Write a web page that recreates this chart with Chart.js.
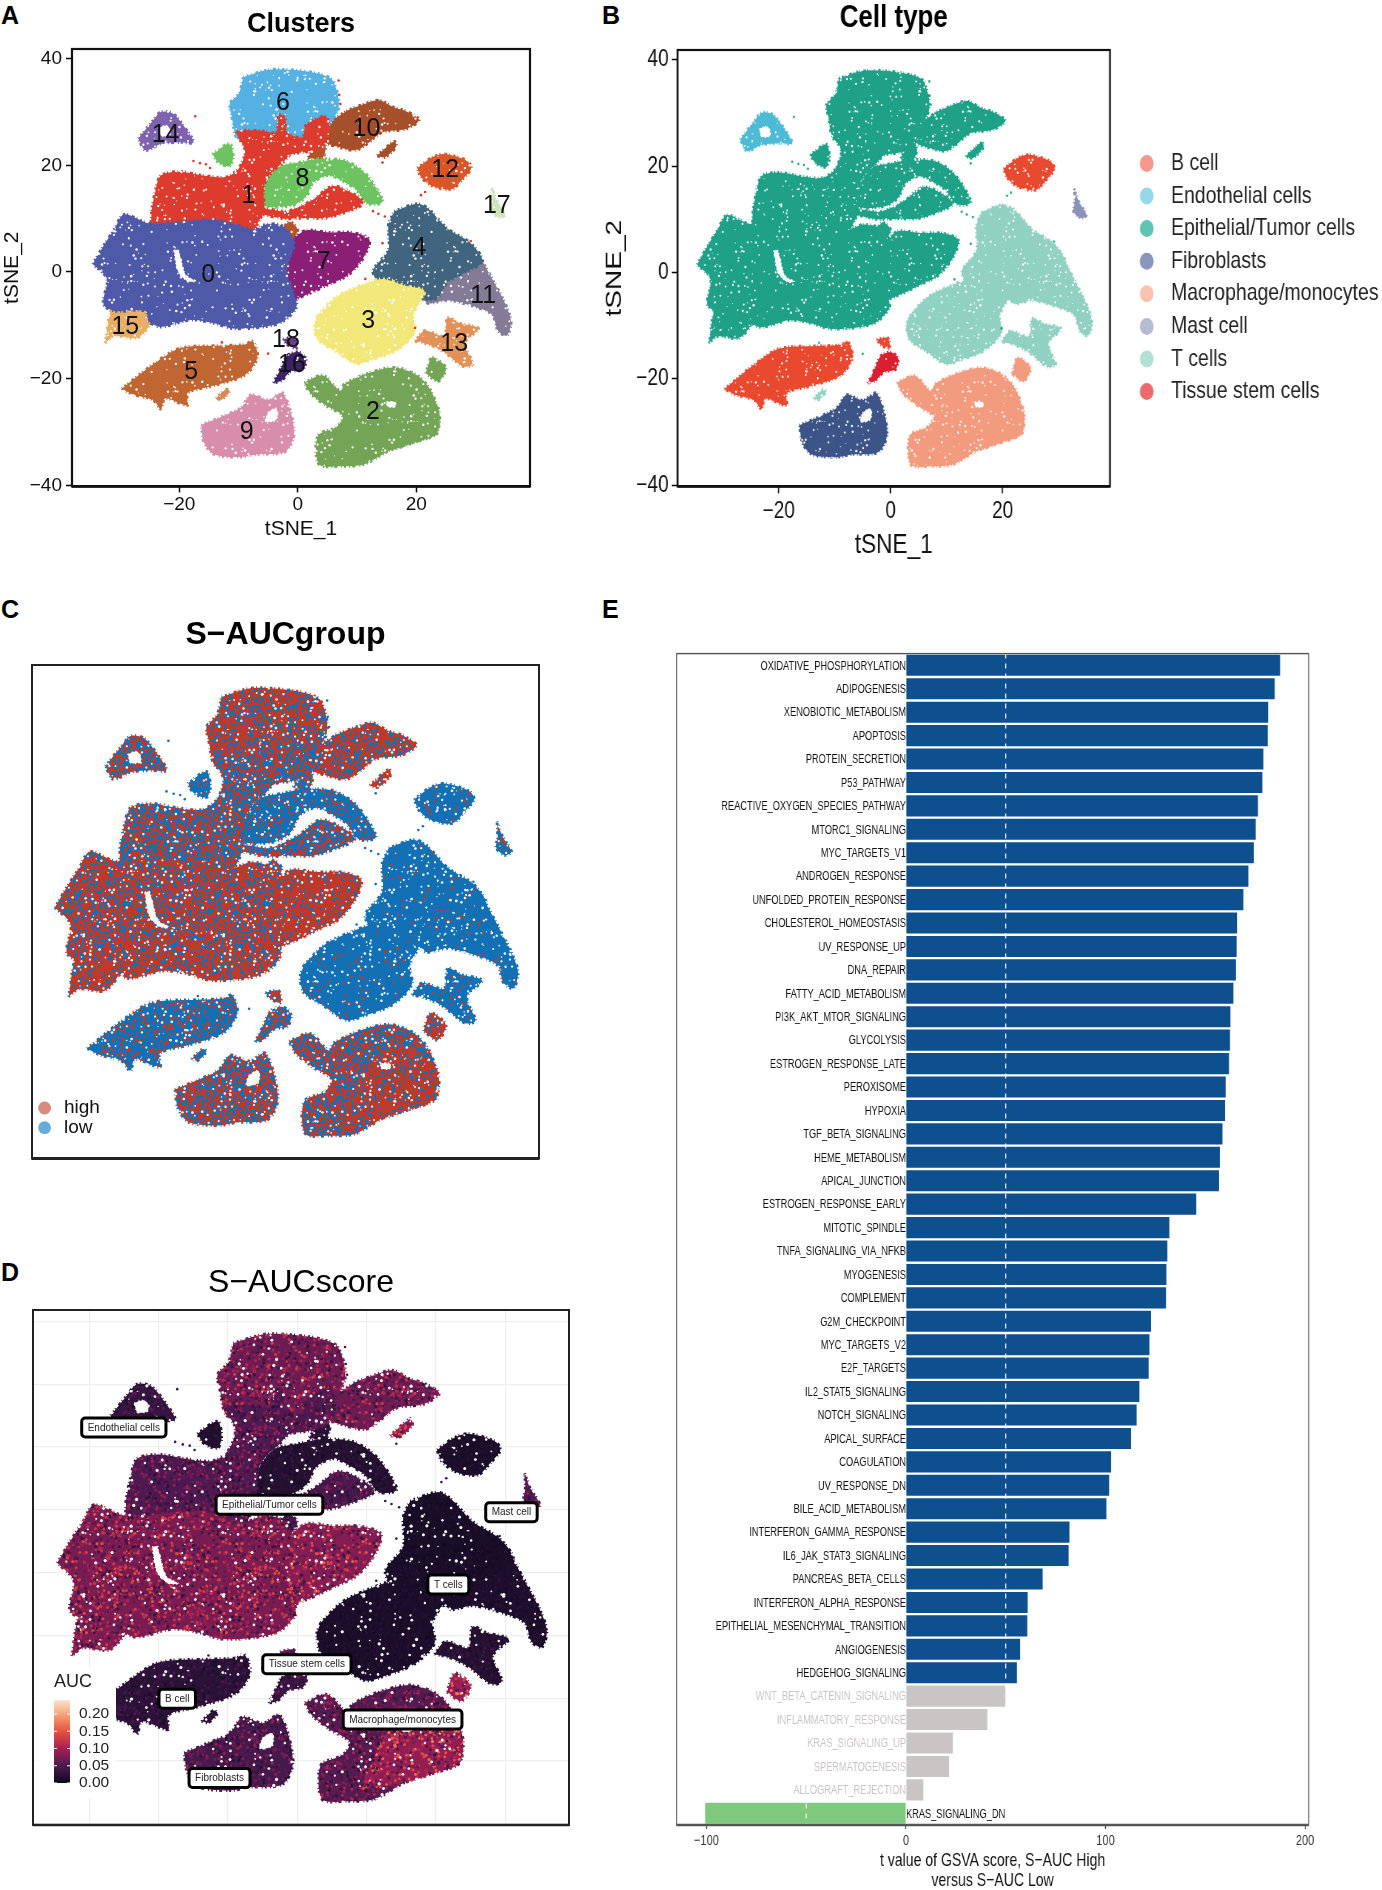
<!DOCTYPE html>
<html>
<head>
<meta charset="utf-8">
<title>tSNE panels and GSVA bars</title>
<script src="https://cdn.jsdelivr.net/npm/chart.js@4"></script>
<style>
  html, body { margin: 0; background: #fff; width: 1382px; height: 1890px; overflow: hidden; }
  canvas { position: absolute; transform-origin: 0 0; }
  #aucGroup, #aucScore { filter: blur(0.4px); }
  .tag { position: absolute; font: bold 25px "Liberation Sans", sans-serif; color: #000; line-height: 1; }
</style>
</head>
<body>
<div class="tag" style="left:1px;top:3px">A</div>
<div class="tag" style="left:602px;top:3px">B</div>
<div class="tag" style="left:1px;top:597px">C</div>
<div class="tag" style="left:1px;top:1260px">D</div>
<div class="tag" style="left:602px;top:597px">E</div>
<canvas id="clusters" width="600" height="560" style="left:0;top:0"></canvas>
<canvas id="cellType" width="965" height="560" style="left:600px;top:0;transform:scaleX(0.81)"></canvas>
<canvas id="aucGroup" width="600" height="590" style="left:0;top:590px"></canvas>
<canvas id="aucScore" width="600" height="600" style="left:0;top:1250px"></canvas>
<canvas id="gsva" width="962" height="1255" style="left:670px;top:640px;transform:scaleX(0.74)"></canvas>
<script>
// tSNE cluster outlines, vertices in tSNE units.
// The single cells cannot be read one by one, so each cluster is a filled region
// and the speckle is only a fill texture, not data.
const cluster0 = [[-34.6,1.5],[-32.9,4.7],[-30.9,8.1],[-29.3,10.8],[-25.1,9.1],[-19.3,9.4],[-14.1,9.8],[-10.2,8.8],[-7.6,8],[-5,9],[-2.5,8.6],[-1,6.5],[-0.5,5.4],[-1.8,0.1],[-0.5,-4.6],[-0.2,-6.6],[-2.5,-9.3],[-5.7,-10.3],[-10.9,-10.6],[-14.1,-9.6],[-18,-9],[-23.1,-10.3],[-25.1,-9.3],[-25.7,-7.3],[-30.9,-7.3],[-32.8,-6],[-32.2,-1.3]];
const cluster0Gap = [[-20.9,4.1],[-20.2,4.1],[-18.9,-0.6],[-17.2,-1.7],[-18.6,-1.7],[-20.2,0.1]];
const cluster1 = [[-24.7,11.4],[-24.1,14.8],[-23.1,18.1],[-19.9,18.8],[-16,18.1],[-12.1,17.8],[-9.9,19.5],[-8.9,22.8],[-10.2,26.2],[-6.3,26.5],[-3.7,26.2],[-3.1,29.5],[-2.1,28.8],[-1.8,26.2],[0.8,25.2],[1.4,27.5],[4.7,29.2],[5.3,26.2],[4,23.5],[1.4,22.5],[-1.2,22],[-2.5,20.5],[-4.5,18.5],[-5.7,16.1],[-5.7,11.4],[-6.3,10.1],[-7.6,7.5],[-8.9,7],[-10.2,7.5],[-14.1,8],[-19.3,8],[-24.4,8]];
const cluster1b = [[-6,10.8],[-5.5,11.8],[-1.8,11.4],[2.5,13.5],[5.9,16.1],[9.8,14.4],[11.1,12.8],[7.9,11.1],[4.7,10.1],[1.4,10.1],[-2.5,10]];
const cluster2 = [[1.1,-20.7],[4.3,-19.4],[7.2,-22.3],[7.9,-21],[11.8,-19],[16.3,-17.9],[20.2,-19.4],[22.7,-22.7],[23.7,-27.4],[23.4,-30.4],[19.5,-32],[15.6,-33.4],[11.1,-36.1],[7.2,-36.4],[3.6,-36.1],[3.4,-30.7],[6.6,-29],[7.6,-27],[4.7,-25],[2.1,-22.7]];
const cluster2b = [[21.6,-19],[22.7,-16],[25,-18],[23.7,-20.5]];
const cluster2Gap = [[15,-24.3],[16.6,-24.5],[16.3,-25.3],[15.2,-25.2]];
const cluster3 = [[3.4,-8],[6.6,-4.6],[11.1,-2.3],[14.3,-1.3],[18.2,-2.6],[21.4,-3.6],[19.5,-8],[19.8,-11.3],[16.9,-14.6],[13,-16.3],[9.8,-17.2],[6.6,-15],[3.4,-12.7],[2.8,-10]];
const cluster4 = [[16.3,11.4],[20.2,12.8],[22.1,11.8],[25.3,8.1],[29.2,5.4],[31.2,2],[28.6,0.1],[25.3,-1.9],[23.4,-5],[19.5,-5],[15,-3.5],[12.7,0.1],[15.3,4.1],[15.3,8.8]];
const cluster5 = [[-29.7,-21.9],[-24.4,-17.3],[-19.9,-14.3],[-12.8,-13.8],[-8.9,-13.6],[-7.6,-13],[-6.8,-16],[-8.9,-19.3],[-14.1,-21.3],[-18.6,-22.7],[-18.6,-25],[-22.4,-23.7],[-23.1,-25.7],[-24.4,-24],[-27.7,-23]];
const cluster5b = [[-13.8,-23.7],[-12.1,-22],[-11.5,-22.4],[-12.8,-23.9]];
const cluster6 = [[-9.2,36.5],[-5,37.9],[-1.2,37.9],[3.4,37.2],[5.9,35.9],[6.9,30.8],[4.7,27],[1.4,25.5],[0.5,24.8],[-1.8,25],[-2.5,28.8],[-3.4,29.5],[-3.7,24.5],[-7.6,24.5],[-10.2,25],[-11.2,29.5],[-11.5,31.5],[-9.9,33.5]];
const cluster7 = [[-1,6],[1.4,7.8],[5.3,7.4],[9.1,7.4],[12.1,6.1],[11.1,2.7],[8.5,-0.6],[5.3,-2.3],[1.4,-4.3],[-2.5,-5.5],[-3,-1.5],[-3,2],[-2,4.5]];
const cluster8 = [[-6.2,15.5],[-3.5,19.5],[0.1,20.5],[3.4,21.2],[7.9,20.9],[11.1,18.8],[13.4,15.5],[14.3,13.1],[11.8,12.8],[9.8,15.5],[7.9,16.8],[5.3,18.1],[2.7,16.8],[1.4,14.1],[-1.2,12.4],[-6,12.5]];
const cluster8b = [[-14.4,22.1],[-11.5,24.1],[-10.9,21.5],[-11.5,19.8],[-13.4,20.5]];
const cluster9 = [[-16.3,-28.7],[-13.4,-27.4],[-9.6,-25.4],[-7.9,-23],[-5,-24],[-2.5,-22.7],[-0.6,-30],[-2.1,-33.7],[-7,-34.2],[-9.6,-34.7],[-14.1,-34.2],[-15.8,-32]];
const cluster9Gap = [[-5,-26.3],[-3.6,-25.6],[-3.6,-27.6],[-5.4,-28]];
const cluster10 = [[8.2,30.2],[10.5,31.2],[13.7,32.2],[16.3,30.8],[18.2,30.2],[20.5,28.5],[18.2,26.8],[14.3,26.2],[11.8,24.1],[9.8,22.8],[6.6,23.5],[4.5,24.5],[5,27.5]];
const cluster10b = [[13.4,21.8],[16.3,24.5],[16.6,23.5],[14.7,21.5]];
const cluster10c = [[1.7,21.5],[3.4,23.8],[4.7,23.5],[4,21.1]];
const cluster10d = [[-3.3,6.4],[-1.5,9.4],[0,8],[-1,6.2]];
const cluster11 = [[31.2,2],[33.1,-1.9],[35,-5.9],[36,-9.3],[35.3,-11.9],[33.8,-11],[32.8,-8],[29.2,-6.3],[25.3,-5.3],[21.8,-5.8],[22,-2],[25,0],[27,2]];
const cluster12 = [[20.2,19.5],[22.7,21.5],[24.7,22.1],[28.5,20.9],[29.3,19.5],[27.9,17.5],[26,15.5],[22.7,16.1],[20.8,17.8]];
const cluster13 = [[19.8,-13],[21.4,-11],[24.7,-12],[25.3,-8.6],[27.3,-9.6],[30.5,-10.6],[28.2,-13.3],[29.5,-17.3],[27.9,-17.7],[24.7,-15],[22.1,-13.6]];
const cluster14 = [[-26.9,25],[-24.7,28],[-23.1,30],[-21.1,29.7],[-19.2,27.3],[-17.6,24.3],[-19.9,24.3],[-23.1,24],[-25.7,22.8]];
const cluster14Gap = [[-23.5,27],[-22,27.4],[-21.5,25.8],[-23,25.5]];
const cluster15 = [[-32.5,-13.3],[-31.2,-6.5],[-27.7,-6],[-24.8,-9],[-27,-12.3],[-30.9,-12]];
const cluster16 = [[-4.1,-20.8],[-2.8,-18],[-1.8,-15.7],[0.1,-15],[1.4,-16.3],[0.8,-18.3],[-1.2,-18.7],[-2.8,-20.4]];
const cluster17 = [[32.8,15.8],[33.6,13.4],[35,10.8],[34,10.2],[32.7,11.4],[32.9,13.4]];
const cluster18 = [[-2.5,-12.6],[-0.5,-12.3],[-0.2,-14.3],[-1.8,-13.6]];
const macroBright = [[9,-34.5],[14,-24],[19,-22],[23.5,-25],[23.5,-30],[19.5,-32],[15.6,-33.4]];
const strayX = [-17.6,-16.5,-15.5,-14.8,12.7,13.6,14.7,20.8,21.5,6.9,7,7.2,-17.3,14.3,14.3,29.2,11.4,19.8,-5,-12.8];
const strayY = [20.8,20.4,20.2,19.5,11.4,10.9,10.4,14.4,15,35.9,33.2,31.5,29.2,20.5,5.4,5.8,-1.3,-10.5,-15.3,-13.2];

const clusterIds = ["0","1","2","3","4","5","6","7","8","9","10","11","12","13","14","15","16","17","18"];
const clusterLabelX = [-15.1,-8.3,12.7,11.9,20.5,-18,-2.5,4.4,0.8,-8.6,11.6,31.3,24.9,26.4,-22.3,-29.1,-1,33.6,-2];
const clusterLabelY = [-0.6,14.2,-26.2,-9.3,4.4,-18.8,31.7,1.9,17.5,-30,26.8,-4.5,19.1,-13.6,25.7,-10.4,-17.5,12.3,-12.8];

const cellTypes = ["B cell","Endothelial cells","Epithelial/Tumor cells","Fibroblasts","Macrophage/monocytes","Mast cell","T cells","Tissue stem cells"];
const cellTypeDots = ["#f4998b","#95d8ea","#5fc5b1","#8a97bb","#f9c3b0","#b4bcd4","#b3e0d5","#ec6a6d"];
const cellLabelX = [-25,-4,30.9,21.8,1.4,-17.3,15.2,-11.2];
const cellLabelY = [23.1,10.8,9.6,-1.9,-14.6,-20.1,-23.4,-32.7];
const cellLabelText = ["Endothelial cells","Epithelial/Tumor cells","Mast cell","T cells","Tissue stem cells","B cell","Macrophage/monocytes","Fibroblasts"];

const groupNames = ["high","low"];
const aucTicks = [0,0.05,0.1,0.15,0.2];

const pathways = ["OXIDATIVE_PHOSPHORYLATION","ADIPOGENESIS","XENOBIOTIC_METABOLISM","APOPTOSIS","PROTEIN_SECRETION","P53_PATHWAY","REACTIVE_OXYGEN_SPECIES_PATHWAY","MTORC1_SIGNALING","MYC_TARGETS_V1","ANDROGEN_RESPONSE","UNFOLDED_PROTEIN_RESPONSE","CHOLESTEROL_HOMEOSTASIS","UV_RESPONSE_UP","DNA_REPAIR","FATTY_ACID_METABOLISM","PI3K_AKT_MTOR_SIGNALING","GLYCOLYSIS","ESTROGEN_RESPONSE_LATE","PEROXISOME","HYPOXIA","TGF_BETA_SIGNALING","HEME_METABOLISM","APICAL_JUNCTION","ESTROGEN_RESPONSE_EARLY","MITOTIC_SPINDLE","TNFA_SIGNALING_VIA_NFKB","MYOGENESIS","COMPLEMENT","G2M_CHECKPOINT","MYC_TARGETS_V2","E2F_TARGETS","IL2_STAT5_SIGNALING","NOTCH_SIGNALING","APICAL_SURFACE","COAGULATION","UV_RESPONSE_DN","BILE_ACID_METABOLISM","INTERFERON_GAMMA_RESPONSE","IL6_JAK_STAT3_SIGNALING","PANCREAS_BETA_CELLS","INTERFERON_ALPHA_RESPONSE","EPITHELIAL_MESENCHYMAL_TRANSITION","ANGIOGENESIS","HEDGEHOG_SIGNALING","WNT_BETA_CATENIN_SIGNALING","INFLAMMATORY_RESPONSE","KRAS_SIGNALING_UP","SPERMATOGENESIS","ALLOGRAFT_REJECTION","KRAS_SIGNALING_DN"];
const tValues = [187.5,184.8,181.5,181.3,179.1,178.6,176.4,175.3,174.3,171.6,169.1,165.9,165.7,165.4,164.1,162.6,162.4,161.9,160.2,159.9,158.6,157.3,156.9,145.5,132,131,130.5,130.3,122.8,122,121.6,117,115.6,112.8,102.8,101.8,100.4,81.9,81.5,68.5,61,60.8,57.2,55.6,49.9,40.8,23.5,21.6,8.7,-100.7];
const cutoffs = [-50,50];

const FONT = '"Liberation Sans", Arial, sans-serif';
const RANGE = {xmin: -38.1, xmax: 39.2, ymin: -40.2, ymax: 41.8};

// one row per region, first row on top: colour in A, colour in B, share of "high" cells in C, mean AUC in D
const regions = [
  {pts: cluster0,  a: "#4e59a8", b: "#1ea187", high: .7, auc: .088},
  {pts: cluster1,  a: "#dd3b2d", b: "#1ea187", high: .5, auc: .06},
  {pts: cluster1b, a: "#dd3b2d", b: "#1ea187", high: .42, auc: .055},
  {pts: cluster2b, a: "#74a556", b: "#f39b7f", high: .82, auc: .11},
  {pts: macroBright, a: "#74a556", b: "#f39b7f", high: .8, auc: .105},
  {pts: cluster2,  a: "#74a556", b: "#f39b7f", high: .55, auc: .065},
  {pts: cluster3,  a: "#f2e87a", b: "#91d1c2", high: .03, auc: .014},
  {pts: cluster4,  a: "#41657f", b: "#91d1c2", high: .03, auc: .012},
  {pts: cluster5,  a: "#bf6632", b: "#e8492f", high: .2,  auc: .03},
  {pts: cluster5b, a: "#d98a50", b: "#91d1c2", high: .3,  auc: .03},
  {pts: cluster8,  a: "#6cc35f", b: "#1ea187", high: .14, auc: .022},
  {pts: cluster8b, a: "#6cc35f", b: "#1ea187", high: .08, auc: .02},
  {pts: cluster6,  a: "#56b1e3", b: "#1ea187", high: .7, auc: .08},
  {pts: cluster7,  a: "#8a1f75", b: "#1ea187", high: .86, auc: .095},
  {pts: cluster9,  a: "#d88eab", b: "#3c5488", high: .56, auc: .055},
  {pts: cluster10c,a: "#b5542a", b: "#1ea187", high: .3,  auc: .03},
  {pts: cluster10d,a: "#b5542a", b: "#1ea187", high: .6,  auc: .05},
  {pts: cluster10, a: "#a5502a", b: "#1ea187", high: .7, auc: .08},
  {pts: cluster10b,a: "#a5502a", b: "#1ea187", high: .85, auc: .09},
  {pts: cluster11, a: "#847b97", b: "#91d1c2", high: .03, auc: .016},
  {pts: cluster12, a: "#d9562a", b: "#e8492f", high: .05, auc: .014},
  {pts: cluster13, a: "#e39257", b: "#91d1c2", high: .05, auc: .025},
  {pts: cluster14, a: "#7d63ae", b: "#4dbbd5", high: .5,  auc: .04},
  {pts: cluster15, a: "#e8ae63", b: "#1ea187", high: .8,  auc: .09},
  {pts: cluster16, a: "#3d2169", b: "#dc1f30", high: .4,  auc: .04},
  {pts: cluster17, a: "#cfe3bd", b: "#8b93b8", high: .2,  auc: .06},
  {pts: cluster18, a: "#6b3a8b", b: "#e8492f", high: .5,  auc: .06}
];

// speckle textures, style only
function noise(n) { const s = Math.sin(n * 127.1 + 11.7) * 43758.5453; return s - Math.floor(s); }
function makeTile(paint) {
  const c = document.createElement("canvas");
  c.width = c.height = 140;
  const g = c.getContext("2d");
  paint(g);
  return g.createPattern(c, "repeat");
}
function dot(g, i, r, color) {
  g.fillStyle = color;
  g.beginPath();
  g.arc(noise(i) * 140, noise(i + 0.5) * 140, r, 0, 7);
  g.fill();
}
function holes(g, count, r) {
  for (let i = 0; i < count; i++) dot(g, 5000 + i * 3, r * (.6 + .9 * noise(i + .25)), "#fff");
}
function solidTile(color) {
  return makeTile(g => { g.fillStyle = color; g.fillRect(0, 0, 140, 140); holes(g, 260, .85); });
}
function mixTile(high) {
  return makeTile(g => {
    for (let r = 0; r < 70; r++) {
      for (let c = 0; c < 70; c++) {
        g.fillStyle = noise(r * 71 + c + 3) < high ? "#bd3a2a" : "#1470b5";
        g.fillRect(c * 2, r * 2, 2, 2);
      }
    }
    holes(g, 340, .9);
  });
}
const rocketStops = [[0,"#0d0a1e"],[.05,"#4a1a50"],[.1,"#a71f55"],[.15,"#e9503f"],[.2,"#f6a67c"],[.24,"#fbe3cf"]];
function rocket(v) {
  v = Math.min(.24, Math.max(0, v));
  let k = 0;
  while (k < rocketStops.length - 2 && v > rocketStops[k + 1][0]) k++;
  const [a, ca] = rocketStops[k], [b, cb] = rocketStops[k + 1];
  const t = (v - a) / (b - a), ch = (c, i) => parseInt(c.substr(1 + i * 2, 2), 16);
  const mix = [0, 1, 2].map(i => Math.round(ch(ca, i) + (ch(cb, i) - ch(ca, i)) * t));
  return "rgb(" + mix.join(",") + ")";
}
function scoreTile(mean) {
  return makeTile(g => {
    g.fillStyle = rocket(mean * .85);
    g.fillRect(0, 0, 140, 140);
    for (let i = 0; i < 1500; i++) dot(g, i + 1, 1.5, rocket(mean * (.3 + 1.4 * noise(i * 2.3 + 7))));
    holes(g, 150, 1.1);
  });
}

function outline(pts) { return pts.concat([pts[0]]).map(([x, y]) => ({x, y})); }
function regionSets(fillOf, dash) {
  // Chart.js paints the first dataset last
  return regions.map(r => {
    const fill = fillOf(r);
    return {
      data: outline(r.pts), showLine: true, fill: "shape", tension: .3, pointRadius: 0,
      backgroundColor: fill, borderColor: fill, borderWidth: 3, borderDash: dash
    };
  });
}
function extraSets(strayColor) {
  const gap = pts => ({data: outline(pts), showLine: true, fill: "shape", tension: .3, pointRadius: 0,
    backgroundColor: "#fff", borderColor: "#fff", borderWidth: 1.5, borderDash: RAGGED});
  return [
    {data: strayX.map((x, i) => ({x, y: strayY[i]})), pointRadius: 1.3, pointBorderWidth: 0, backgroundColor: strayColor},
    gap(cluster0Gap), gap(cluster2Gap), gap(cluster9Gap), gap(cluster14Gap)
  ];
}
const RAGGED = [1, 3, 2, 2, 1, 4, 3, 2];

const minus = v => String(v).replace("-", "\u2212");
function framePlugin(width, color, bottomWidth) {
  return {
    id: "frame",
    afterDraw(chart) {
      const {left, right, top, bottom} = chart.chartArea, g = chart.ctx;
      g.save();
      g.strokeStyle = color;
      g.lineWidth = width;
      g.strokeRect(left, top, right - left, bottom - top);
      g.lineWidth = bottomWidth;
      g.beginPath(); g.moveTo(left, bottom); g.lineTo(right, bottom); g.stroke();
      g.restore();
    }
  };
}
function hiddenAxes(grid) {
  const axis = (min, max) => ({
    type: "linear", min, max, display: !!grid,
    ticks: {display: false, stepSize: 10, includeBounds: false},
    grid: grid ? {color: "#eeeeee", lineWidth: 1.2, drawTicks: false} : {display: false},
    border: {display: false}
  });
  return {x: axis(RANGE.xmin, RANGE.xmax), y: axis(RANGE.ymin, RANGE.ymax)};
}
function tickAxes(o) {
  const common = {
    type: "linear",
    grid: {drawOnChartArea: false, tickLength: o.tick, tickColor: "#000", tickWidth: 1.5},
    border: {display: false}
  };
  return {
    x: Object.assign({}, common, {
      min: RANGE.xmin, max: RANGE.xmax,
      ticks: {stepSize: 20, includeBounds: false, maxRotation: 0, padding: o.xPad, color: "#111",
        font: {family: FONT, size: o.tickFont, lineHeight: 1}, callback: minus},
      title: {display: true, text: "tSNE_1", color: "#111", padding: {top: 0, bottom: o.xTitlePad},
        font: {family: FONT, size: o.titleFont, lineHeight: 1}},
      afterFit(s) { s.height = o.h - o.bottom; }
    }),
    y: Object.assign({}, common, {
      min: RANGE.ymin, max: RANGE.ymax,
      ticks: {stepSize: 20, includeBounds: false, padding: o.yPad, color: "#111",
        font: {family: FONT, size: o.tickFont, lineHeight: 1}, callback: minus},
      title: {display: true, text: "tSNE_2", color: "#111", padding: {top: o.yTitlePad, bottom: 0},
        font: {family: FONT, size: o.titleFont, lineHeight: 1}},
      afterFit(s) { s.width = o.left; }
    })
  };
}
function heading(text, size, weight, top, bottom) {
  return {display: true, text, color: "#000", fullSize: false, padding: {top, bottom},
    font: {family: FONT, size, weight, lineHeight: 1}};
}
function baseOptions(title, padding, scales) {
  return {
    responsive: false, animation: false, events: [],
    layout: {padding, autoPadding: false},
    plugins: {legend: {display: false}, tooltip: {enabled: false}, title},
    scales
  };
}

// A: clusters
new Chart(document.getElementById("clusters"), {
  type: "scatter",
  data: {datasets: extraSets("#dd3b2d").concat(regionSets(r => solidTile(r.a), RAGGED))},
  options: baseOptions(heading("Clusters", 27, "bold", 11, 11), {right: 70},
    tickAxes({h: 560, bottom: 486.4, left: 72, tick: 6, xPad: 3, yPad: 4, tickFont: 19, titleFont: 21, xTitlePad: 20, yTitlePad: 2})),
  plugins: [framePlugin(2.2, "#111", 2.6), {
    id: "clusterNumbers",
    afterDatasetsDraw(chart) {
      const g = chart.ctx;
      g.save();
      g.font = "25px " + FONT;
      g.fillStyle = "#111";
      g.textAlign = "center";
      g.textBaseline = "middle";
      clusterIds.forEach((id, i) => g.fillText(id, chart.scales.x.getPixelForValue(clusterLabelX[i]), chart.scales.y.getPixelForValue(clusterLabelY[i])));
      g.restore();
    }
  }]
});

// B: cell type
new Chart(document.getElementById("cellType"), {
  type: "scatter",
  data: {datasets: extraSets("#1ea187").concat(regionSets(r => solidTile(r.b), RAGGED))},
  options: baseOptions(heading("Cell type", 32, "bold", 2, 16), {right: 335.4},
    tickAxes({h: 560, bottom: 486.4, left: 95.7, tick: 7, xPad: 6, yPad: 4, tickFont: 23.5, titleFont: 28, xTitlePad: 1, yTitlePad: 4})),
  plugins: [framePlugin(2.2, "#111", 2.6), {
    id: "typeLegend",
    afterDraw(chart) {
      const g = chart.ctx;
      g.save();
      g.font = "24px " + FONT;
      g.textBaseline = "middle";
      cellTypes.forEach((name, i) => {
        const y = 163.4 + i * 32.6;
        g.fillStyle = cellTypeDots[i];
        g.beginPath();
        g.arc(675, y, 8.5, 0, 7);
        g.fill();
        g.fillStyle = "#222";
        g.fillText(name, 705, y);
      });
      g.restore();
    }
  }]
});

// C: S-AUC group
new Chart(document.getElementById("aucGroup"), {
  type: "scatter",
  data: {datasets: extraSets("#1470b5").concat(regionSets(r => mixTile(r.high), RAGGED))},
  options: baseOptions(heading("S\u2212AUCgroup", 32, "bold", 29, 14), {left: 32, right: 61, bottom: 21.4}, hiddenAxes(false)),
  plugins: [framePlugin(2, "#222", 3), {
    id: "groupLegend",
    afterDraw(chart) {
      const g = chart.ctx, colors = ["#d98a80", "#66acd8"];
      g.save();
      g.font = "19px " + FONT;
      g.textBaseline = "middle";
      groupNames.forEach((name, i) => {
        const y = 518 + i * 19.7;
        g.fillStyle = colors[i];
        g.beginPath();
        g.arc(44.6, y, 6.4, 0, 7);
        g.fill();
        g.fillStyle = "#111";
        g.fillText(name, 64, y);
      });
      g.restore();
    }
  }]
});

// D: S-AUC score
new Chart(document.getElementById("aucScore"), {
  type: "scatter",
  data: {datasets: extraSets("#3a1a4a").concat(regionSets(r => scoreTile(r.auc), RAGGED))},
  options: baseOptions(heading("S\u2212AUCscore", 32, "normal", 17, 11), {left: 33, right: 31, bottom: 25}, hiddenAxes(true)),
  plugins: [framePlugin(2, "#222", 2.4), {
    id: "scoreExtras",
    afterDraw(chart) {
      const g = chart.ctx, {x, y} = chart.scales;
      g.save();
      // the legend has a white backing that hides the left tip of the B cells
      g.fillStyle = "#fff";
      g.fillRect(35, 418, 81, 130);
      g.textAlign = "center";
      g.textBaseline = "middle";
      g.font = "10px " + FONT;
      cellLabelText.forEach((text, i) => {
        const cx = x.getPixelForValue(cellLabelX[i]), cy = y.getPixelForValue(cellLabelY[i]);
        const w = g.measureText(text).width + 12, h = 19;
        g.beginPath();
        g.roundRect(cx - w / 2, cy - h / 2, w, h, 3.5);
        g.fillStyle = "#fff";
        g.fill();
        g.lineWidth = 3;
        g.strokeStyle = "#000";
        g.stroke();
        g.fillStyle = "#222";
        g.fillText(text, cx, cy + 0.5);
      });
      // colour bar
      const bottom = 533, perUnit = 345, barLeft = 54, barRight = 70, top = bottom - 0.24 * perUnit;
      const grad = g.createLinearGradient(0, bottom, 0, top);
      rocketStops.forEach(([v, c]) => grad.addColorStop(v / 0.24, c));
      g.fillStyle = grad;
      g.fillRect(barLeft, top, barRight - barLeft, bottom - top);
      g.textAlign = "left";
      g.fillStyle = "#222";
      g.font = "18px " + FONT;
      g.fillText("AUC", 54, 432);
      g.font = "15.5px " + FONT;
      aucTicks.forEach(v => {
        const py = bottom - v * perUnit;
        g.fillText(v.toFixed(2), 79, py);
        g.fillStyle = "#fff";
        g.fillRect(barLeft, py - .5, 3, 1);
        g.fillRect(barRight - 3, py - .5, 3, 1);
        g.fillStyle = "#222";
      });
      g.restore();
    }
  }]
});

// E: GSVA t values
const barColor = v => v < 0 ? "#7fc97f" : (v < 50 ? "#c9c5c5" : "#0e4f8d");
new Chart(document.getElementById("gsva"), {
  type: "bar",
  data: {
    labels: pathways,
    datasets: [{data: tValues, backgroundColor: tValues.map(barColor), barPercentage: .9, categoryPercentage: 1}]
  },
  options: Object.assign(baseOptions({display: false}, {left: 8.8, right: 99, top: 13.6}, {
    x: {
      type: "linear", min: -115, max: 201.8,
      ticks: {stepSize: 100, includeBounds: false, maxRotation: 0, padding: 4.5, color: "#333",
        font: {family: FONT, size: 15, lineHeight: 1}, callback: minus},
      grid: {drawOnChartArea: false, tickLength: 4, tickColor: "#444", tickWidth: 1.3},
      border: {display: false},
      title: {display: true, text: ["t value of GSVA score, S\u2212AUC High", "versus S\u2212AUC Low"], color: "#111",
        padding: {top: 0, bottom: 4}, font: {family: FONT, size: 19, lineHeight: 20 / 19}},
      afterFit(s) { s.height = 70; }
    },
    y: {display: false, type: "category"}
  }), {indexAxis: "y"}),
  plugins: [framePlugin(1.4, "#555", 2.4), {
    id: "pathwayLabels",
    afterDatasetsDraw(chart) {
      const g = chart.ctx, {x, y} = chart.scales;
      g.save();
      g.setLineDash([5, 5]);
      g.strokeStyle = "#fff";
      g.lineWidth = 1.3;
      cutoffs.forEach(c => {
        g.beginPath();
        g.moveTo(x.getPixelForValue(c), chart.chartArea.top);
        g.lineTo(x.getPixelForValue(c), chart.chartArea.bottom);
        g.stroke();
      });
      g.font = "12.5px " + FONT;
      g.textBaseline = "middle";
      pathways.forEach((name, i) => {
        const v = tValues[i];
        g.fillStyle = Math.abs(v) < 50 ? "#c9c5c5" : "#111";
        g.textAlign = v < 0 ? "left" : "right";
        g.fillText(name, x.getPixelForValue(0), y.getPixelForValue(i) + 0.8);
      });
      g.restore();
    }
  }]
});
</script>
</body>
</html>
